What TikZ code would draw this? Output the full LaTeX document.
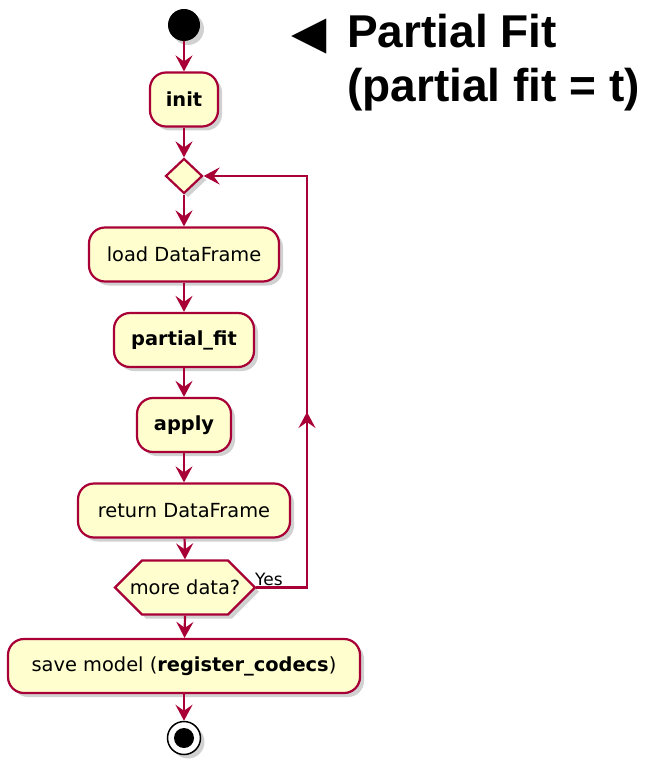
\documentclass[tikz,border=0pt]{standalone}
\usepackage{fontspec}
\setmainfont{DejaVu Sans}
\newfontfamily\titlefont{Liberation Sans}
\newfontfamily\symfont{DejaVu Sans}
\usetikzlibrary{arrows.meta,shadows,shapes.misc,shapes.geometric,calc}
\definecolor{pbord}{HTML}{A80036}
\definecolor{pfill}{HTML}{FEFECE}
\tikzset{
  shd/.style={drop shadow={shadow xshift=4pt,shadow yshift=-4pt,opacity=0.3,fill=black!60}},
  act/.style={draw=pbord,fill=pfill,line width=2.2pt,rounded corners=16pt,minimum height=54pt,inner sep=0pt,shd,font=\fontsize{19.4pt}{23pt}\selectfont},
  flow/.style={draw=pbord,line width=2.2pt,-{Stealth[length=16pt,width=17pt,inset=6pt]}},
  dec/.style={draw=pbord,fill=pfill,line width=2.2pt,diamond,shd},
}
\begin{document}
\begin{tikzpicture}[x=1pt,y=-1pt]
\useasboundingbox (0,0) rectangle (656,762);
% start
\node[circle,fill=black,minimum size=32pt,inner sep=0pt,shd] (start) at (184,25) {};
\node[act,minimum width=68pt] (init) at (184,99.5) {\bfseries init};
\node[dec,minimum width=37pt,minimum height=35pt,inner sep=0pt,aspect=1] (loop) at (184,176) {};
\node[act,minimum width=190pt] (load) at (184,254.5) {load DataFrame};
\node[act,minimum width=140pt] (pfit) at (184,340) {\bfseries partial\_fit};
\node[act,minimum width=94pt] (apply) at (184,425) {\bfseries apply};
\node[act,minimum width=212pt] (ret) at (184,510.5) {return DataFrame};
\node[draw=pbord,fill=pfill,line width=2.2pt,chamfered rectangle,chamfered rectangle xsep=17pt,chamfered rectangle ysep=19.5pt,minimum width=140pt,minimum height=39pt,inner sep=0pt,shd,font=\fontsize{19.4pt}{23pt}\selectfont] (more) at (185,587.5) {more data?};
\node[act,minimum width=352pt] (save) at (184,666) {save model (\textbf{register\_codecs})};
\node[circle,draw=black,line width=1.5pt,fill=white,minimum size=33pt,inner sep=0pt,shd] (stop) at (184,738) {};
\node[circle,fill=black,minimum size=20pt,inner sep=0pt] (stopin) at (stop) {};
% flows
\draw[flow] (start) -- (init);
\draw[flow] (init) -- (loop);
\draw[flow] (loop) -- (load);
\draw[flow] (load) -- (pfit);
\draw[flow] (pfit) -- (apply);
\draw[flow] (apply) -- (ret);
\draw[flow] (ret) -- (more.north);
\draw[flow] (more.south) -- (save);
\draw[flow] (save) -- (stop);
\coordinate (lr) at (307,587.5);
\coordinate (ur) at (307,176);
\draw[flow] (more.east) -- (lr) -- (ur) -- (loop.east);
\draw[flow] (lr) -- (307,412);
\node[anchor=base west,inner sep=0pt,font=\fontsize{17pt}{20pt}\selectfont] (yes) at (255,585) {Yes};
% title
\node[anchor=base west,inner sep=0pt,font=\fontsize{46pt}{52pt}\selectfont] (tri) at (291,49) {\symfont ◀};
\node[anchor=base west,inner sep=0pt,font=\fontsize{46pt}{52pt}\selectfont\titlefont\bfseries] (t1) at (347,48) {Partial Fit};
\node[anchor=base west,inner sep=0pt,font=\fontsize{46pt}{52pt}\selectfont\titlefont\bfseries] (t2) at (347,102) {(partial fit = t)};
\end{tikzpicture}
\end{document}
